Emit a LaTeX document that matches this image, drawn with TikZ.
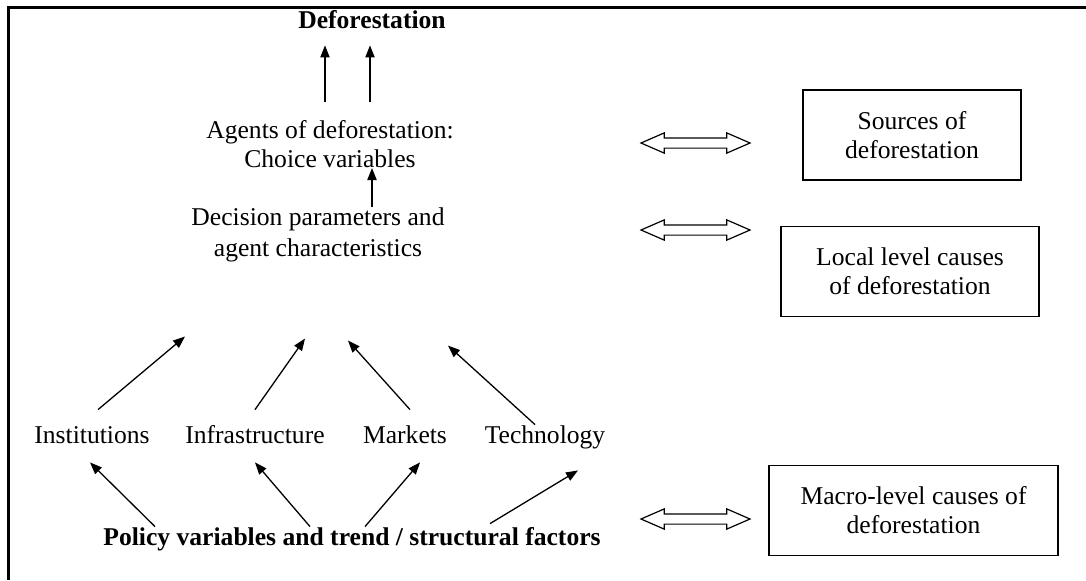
\documentclass[tikz,border=0pt]{standalone}
\usepackage{fontspec}
\setmainfont{Liberation Serif}
\usetikzlibrary{shapes.arrows}
\usetikzlibrary{arrows.meta}
\usetikzlibrary{positioning}
\tikzstyle{txt} = [align=center, inner sep=1pt,
    font=\fontsize{12.8}{14.5}\selectfont]
\tikzstyle{word} = [txt, text height=9pt, text depth=3pt]
\tikzstyle{block} = [txt, rectangle, draw, line width=0.6pt,
    minimum height=45pt]
\tikzstyle{line} = [draw, line width=0.65pt,
    -{Triangle[length=6pt,width=4.6pt]}]
\tikzstyle{twin} = [double arrow, draw, line width=0.6pt,
    minimum height=54.5pt, minimum width=9.5pt, inner sep=2.25pt,
    double arrow head extend=2.5pt, double arrow tip angle=47]

\begin{document}
\begin{tikzpicture}[x=0.5pt, y=-0.5pt]
  \useasboundingbox (0,0) rectangle (1086,580);
  % frame
  \draw [line width=1.5pt] (8,580) -- (8,7) -- (1086,7);

  % Place nodes
  \node [word, font=\fontsize{12.8}{14.5}\selectfont\bfseries] (defo) at (372,22) {Deforestation};
  \node [txt] (agents) at (330,144) {Agents of deforestation:\\Choice variables};
  \node [txt, font=\fontsize{12.8}{15.5}\selectfont] (decision) at (318,235) {Decision parameters and\\agent characteristics};

  \node [word] (inst) at (92,437) {Institutions};
  \node [word] (infra) at (255,437) {Infrastructure};
  \node [word] (markets) at (405,437) {Markets};
  \node [word] (tech) at (545,437) {Technology};

  \node [word, font=\fontsize{12.8}{14.5}\selectfont\bfseries] (policy) at (352,539)
    {Policy variables and trend / structural factors};

  % levels on the right
  \node [twin] (link1) at (695.5,143) {};
  \node [twin] (link2) at (695.5,230) {};
  \node [twin] (link3) at (695.5,519) {};
  \node [block, minimum width=109pt] (sources) at (912,135) {Sources of\\deforestation};
  \node [block, minimum width=129pt] (local) at (910,271.5) {Local level causes\\of deforestation};
  \node [block, minimum width=144.5pt] (macro) at (913.5,510.5) {Macro-level causes of\\deforestation};

  % arrows to the top
  \path [line] ([xshift=-2.5pt,yshift=7.75pt]agents.north) -- ([xshift=-23.5pt,yshift=-4.5pt]defo.south);
  \path [line] ([xshift=20pt,yshift=7.75pt]agents.north) -- ([xshift=-1pt,yshift=-4.5pt]defo.south);
  \path [line] ([xshift=27pt,yshift=-1pt]decision.north) -- ([xshift=21pt,yshift=1pt]agents.south);

  % row to decision
  \path [line] ([xshift=3pt,yshift=6.5pt]inst.north) -- ([xshift=-66.5pt,yshift=-36pt]decision.south);
  \path [line] ([yshift=6.5pt]infra.north) -- ([xshift=-6.5pt,yshift=-37pt]decision.south);
  \path [line] ([xshift=2.5pt,yshift=6.5pt]markets.north) -- ([xshift=15pt,yshift=-38pt]decision.south);
  \path [line] ([xshift=-5pt,yshift=-1pt]tech.north) -- ([xshift=65pt,yshift=-40.5pt]decision.south);

  % policy to row
  \path [line] ([xshift=-98.5pt,yshift=-1pt]policy.north) -- ([xshift=-1pt,yshift=-5.5pt]inst.south);
  \path [line] ([xshift=-21pt,yshift=-1pt]policy.north) -- ([yshift=-5.5pt]infra.south);
  \path [line] ([xshift=6.5pt,yshift=-1pt]policy.north) -- ([xshift=7.5pt,yshift=-5.5pt]markets.south);
  \path [line] ([xshift=69pt,yshift=0.5pt]policy.north) -- ([xshift=16.5pt,yshift=-9.5pt]tech.south);
\end{tikzpicture}
\end{document}
